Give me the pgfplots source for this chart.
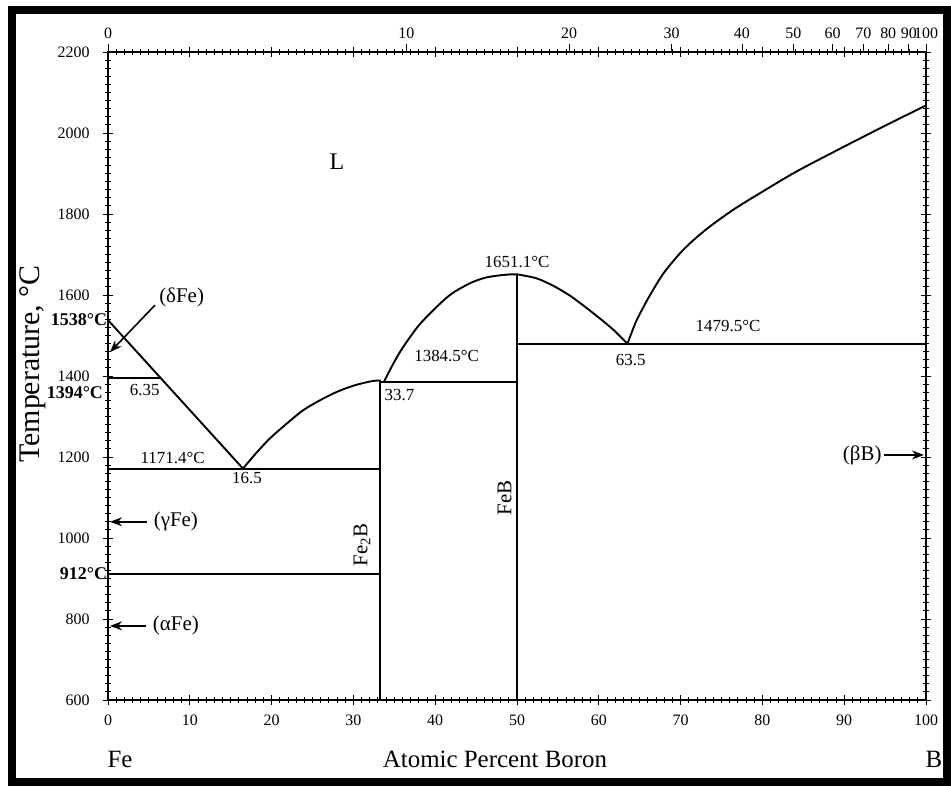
\documentclass[border=0pt]{standalone}
\usepackage{fontspec}
\setmainfont{Liberation Serif}
\usepackage{pgfplots}
\pgfplotsset{compat=1.18}
\usetikzlibrary{arrows.meta}
\begin{document}
\begin{tikzpicture}[x=1bp,y=1bp]
\useasboundingbox (0,0) rectangle (951,787);
\fill[white] (0,0) rectangle (951,787);
\draw[line width=8bp] (11.5,4.5) rectangle (947,777);
\begin{axis}[
 at={(108bp,87bp)}, anchor=south west,
 scale only axis, width=818bp, height=648bp,
 xmin=0, xmax=100, ymin=600, ymax=2200,
 xtick={0,10,...,100}, ytick={600,800,...,2200},
 minor x tick num=9, minor y tick num=9,
 tick align=center, major tick length=10bp, minor tick length=6bp,
 axis line style={line width=1.5bp},
 every tick/.append style={black, line width=0.9bp},
 tick label style={font=\fontsize{16}{16}\selectfont},
 yticklabel style={xshift=-10bp},
 xticklabel style={yshift=-6bp},
 /pgf/number format/assume math mode=true,
 /pgf/number format/1000 sep={},
 clip=false,
 pl/.style={black, solid, line width=1.9bp, mark=none, line join=round},
]
% liquidus Fe side
\addplot[pl] coordinates {(0,1538) (16.5,1171.4)};
% 1394 line
\addplot[pl] coordinates {(0,1394) (6.35,1394)};
% eutectic 1171.4
\addplot[pl] coordinates {(0,1171.4) (33.3,1171.4)};
% 912 line
\addplot[pl] coordinates {(0,912) (33.3,912)};
% liquidus to Fe2B
\addplot[pl, smooth] coordinates {(16.5,1171.4) (18,1207) (19.8,1246) (22,1285) (23.9,1316) (26,1341) (28,1361) (30,1376) (31.5,1384) (32.5,1388) (33.3,1389)};
% Fe2B vertical
\addplot[pl] coordinates {(33.3,600) (33.3,1389)};
% 1384.5 line
\addplot[pl] coordinates {(33.3,1384.5) (50,1384.5)};
% liquidus to FeB
\addplot[pl, smooth] coordinates {(33.7,1384.5) (35,1435) (36.1,1472) (38,1525) (40.2,1571) (42,1603) (44.25,1629) (46,1642) (47.5,1647.5) (49,1650.6) (50,1651.1)};
% FeB vertical
\addplot[pl] coordinates {(50,600) (50,1651.1)};
% FeB to eutectic
\addplot[pl, smooth] coordinates {(50,1651.1) (52.4,1641) (54.5,1622) (56.5,1598) (58.5,1568) (60.5,1536) (62,1510) (63.5,1479.5)};
% 1479.5 line
\addplot[pl] coordinates {(50,1479.5) (100,1479.5)};
% liquidus to B
\addplot[pl, smooth] coordinates {(63.5,1479.5) (64.5,1532) (65.5,1572) (66.5,1608) (68,1656) (70.3,1711) (73,1760) (76.4,1810) (80,1855) (84,1903) (88.7,1953) (94.8,2016) (100,2068)};

\node[font=\fontsize{24}{24}\selectfont] at (axis cs:28,1930) {L};
\node[font=\fontsize{17}{17}\selectfont] at (axis cs:50,1681) {1651.1°C};
\node[font=\fontsize{17}{17}\selectfont] at (axis cs:41.4,1449) {1384.5°C};
\node[font=\fontsize{17}{17}\selectfont, anchor=west] at (axis cs:33.4,1353) {33.7};
\node[font=\fontsize{17}{17}\selectfont] at (axis cs:75.8,1523) {1479.5°C};
\node[font=\fontsize{17}{17}\selectfont] at (axis cs:63.9,1439) {63.5};
\node[font=\fontsize{17}{17}\selectfont] at (axis cs:4.5,1365) {6.35};
\node[font=\fontsize{17}{17}\selectfont] at (axis cs:7.9,1198) {1171.4°C};
\node[font=\fontsize{17}{17}\selectfont] at (axis cs:17,1148) {16.5};
\node[font=\fontsize{21}{21}\selectfont, rotate=90] at (axis cs:31.05,983) {Fe\textsubscript{2}B};
\node[font=\fontsize{21}{21}\selectfont, rotate=90] at (axis cs:48.5,1099) {FeB};
\node[font=\fontsize{21}{21}\selectfont] at (axis cs:9.0,1595) {(δFe)};
\node[font=\fontsize{21}{21}\selectfont] at (axis cs:8.3,1040) {(γFe)};
\node[font=\fontsize{21}{21}\selectfont] at (axis cs:8.3,783) {(αFe)};
\node[font=\fontsize{21}{21}\selectfont] at (axis cs:92.2,1205) {(βB)};
\draw[-{Stealth[length=12bp,width=9bp]}, line width=1.6bp] (axis cs:5.75,1575) -- (axis cs:0.25,1459);
\draw[-{Stealth[length=12bp,width=9bp]}, line width=1.6bp] (axis cs:4.8,1040) -- (axis cs:0.25,1040);
\draw[-{Stealth[length=12bp,width=9bp]}, line width=1.6bp] (axis cs:4.7,783) -- (axis cs:0.25,783);
\draw[-{Stealth[length=12bp,width=9bp]}, line width=1.6bp] (axis cs:94.9,1205) -- (axis cs:99.75,1205);
\node[font=\bfseries\fontsize{18}{18}\selectfont, anchor=east, inner sep=0pt] at (axis cs:-0.1,1538) {1538°C};
\node[font=\bfseries\fontsize{18}{18}\selectfont, anchor=east, inner sep=0pt] at (axis cs:-0.6,1358) {1394°C};
\node[font=\bfseries\fontsize{18}{18}\selectfont, anchor=east, inner sep=0pt] at (axis cs:-0.1,911) {912°C};
\end{axis}
\begin{axis}[
 at={(108bp,87bp)}, anchor=south west,
 scale only axis, width=818bp, height=648bp,
 xmin=0, xmax=100, ymin=600, ymax=2200,
 axis x line*=top, axis y line=none,
 xtick={0,36.47,56.36,68.89,77.50,83.78,88.57,92.34,95.38,97.89,100},
 xticklabels={0,10,20,30,40,50,60,70,80,90,100},
 tick align=outside, major tick length=8bp,
 axis line style={line width=1.5bp},
 every tick/.append style={black, line width=0.9bp},
 tick label style={font=\fontsize{16}{16}\selectfont, inner sep=1pt},
 xticklabel style={yshift=4bp},
]
\end{axis}
\node[font=\fontsize{25}{25}\selectfont] at (120,28) {Fe};
\node[font=\fontsize{25}{25}\selectfont] at (495,28) {Atomic Percent Boron};
\node[font=\fontsize{25}{25}\selectfont] at (934,28) {B};
\node[font=\fontsize{30}{30}\selectfont, rotate=90] at (33,423) {Temperature, °C};
\end{tikzpicture}
\end{document}
